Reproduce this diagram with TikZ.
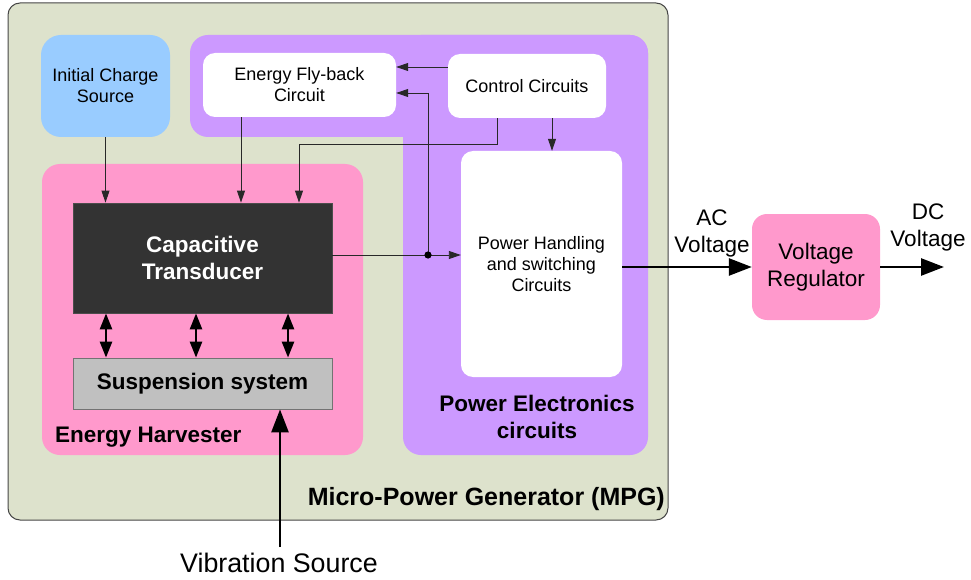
\documentclass[tikz,border=0pt]{standalone}
\usepackage{fontspec}
\setmainfont{Liberation Sans}
\usetikzlibrary{arrows.meta}
\definecolor{mpgfill}{RGB}{221,226,204}
\definecolor{mpgline}{RGB}{70,70,70}
\definecolor{pefill}{RGB}{204,153,255}
\definecolor{ehfill}{RGB}{255,153,204}
\definecolor{icsfill}{RGB}{153,204,255}
\definecolor{ctfill}{RGB}{51,51,51}
\definecolor{suspfill}{RGB}{192,192,192}
\definecolor{wire}{RGB}{40,40,40}
\tikzset{
  smallfont/.style={font=\fontsize{18}{21}\selectfont},
  bigfont/.style={font=\fontsize{22.5}{27}\selectfont},
  boldfont/.style={font=\fontsize{22.5}{27}\selectfont\bfseries},
  whitebox/.style={fill=white, rounded corners=12pt, smallfont, align=center, inner sep=0pt},
  thinarrow/.style={draw=wire, line width=0.9pt, -{Triangle[length=12pt,width=8pt]}},
  thinline/.style={draw=wire, line width=0.9pt},
  bigarrow/.style={draw=black, line width=2.6pt, -{Triangle[length=23pt,width=17pt]}},
  dblarrow/.style={draw=black, line width=2.6pt, {Triangle[length=16pt,width=12pt]}-{Triangle[length=16pt,width=12pt]}},
}
\begin{document}
\begin{tikzpicture}[x=1pt,y=-1pt]
\useasboundingbox (0,0) rectangle (971,580);
% outer MPG
\node[draw=mpgline, line width=1pt, fill=mpgfill, rounded corners=12pt, minimum width=660pt, minimum height=517pt, inner sep=0pt] (mpg) at (338,261.5) {};
% power electronics L region
\fill[pefill, rounded corners=18pt] (190,35) rectangle (648,137);
\fill[pefill, rounded corners=18pt] (403,35) rectangle (648,455);
% energy harvester
\node[fill=ehfill, rounded corners=18pt, minimum width=321pt, minimum height=291pt, inner sep=0pt] (eh) at (202.5,309.5) {};
% blocks
\node[fill=icsfill, rounded corners=20pt, minimum width=129pt, minimum height=102pt, smallfont, align=center, inner sep=0pt] (ics) at (105.5,86) {Initial Charge\\Source};
\node[whitebox, minimum width=193pt, minimum height=64pt] (efb) at (299.5,85) {Energy Fly-back\\Circuit};
\node[whitebox, minimum width=158pt, minimum height=64pt] (cc) at (527,86) {Control Circuits};
\node[whitebox, minimum width=161pt, minimum height=226pt] (ph) at (541.5,264) {Power Handling\\and switching\\Circuits};
\node[draw=black!70, line width=0.8pt, fill=ctfill, minimum width=259pt, minimum height=110pt, boldfont, text=white, align=center, inner sep=0pt] (ct) at (202.5,258) {Capacitive\\Transducer};
\node[draw=black!55, line width=0.8pt, fill=suspfill, minimum width=259pt, minimum height=51pt, boldfont, inner sep=0pt] (susp) at (202.5,383.5) {Suspension system};
\node[fill=ehfill, rounded corners=15pt, minimum width=128pt, minimum height=106pt, bigfont, align=center, inner sep=0pt] (vr) at (816,267) {Voltage\\Regulator};
% labels
\node[boldfont, anchor=west, inner sep=0pt] (ehlabel) at (55,437) {Energy Harvester};
\node[boldfont, align=center, inner sep=0pt] (pelabel) at (537,417) {Power Electronics\\circuits};
\node[font=\fontsize{25}{30}\selectfont\bfseries, anchor=east, inner sep=0pt] (mpglabel) at (665,499) {Micro-Power Generator (MPG)};
\node[font=\fontsize{26.8}{30}\selectfont, inner sep=0pt] (vib) at (279,563) {Vibration Source};
\node[bigfont, align=center, inner sep=0pt] (aclabel) at (712,233) {AC\\Voltage};
\node[bigfont, align=center, inner sep=0pt] (dclabel) at (928,227) {DC\\Voltage};
% coordinates
\coordinate (j) at (428,255);
\coordinate (t1) at (448,67);
\coordinate (c1) at (497,144);
\coordinate (c2) at (299,144);
\coordinate (c3) at (552,140);
\coordinate (c4) at (241,160);
\coordinate (d1) at (106,330);
\coordinate (d2) at (196,330);
\coordinate (d3) at (288,330);
\coordinate (vx) at (280,547);
\coordinate (dcend) at (944,267);
% thin connectors
\draw[thinarrow] (cc.west |- t1) -- (efb.east |- t1);
\draw[thinline] (ct.east |- j) -- (j);
\draw[thinarrow] (j) -- (ph.west |- j);
\draw[thinarrow] (j) |- ([yshift=-8pt]efb.east);
\fill[black] (j) circle (3.6pt);
\draw[thinarrow] (cc.south -| c1) -- (c1) -- (c2) -- (ct.north -| c2);
\draw[thinarrow] (cc.south -| c3) -- (ph.north -| c3);
\draw[thinarrow] (efb.south -| c4) -- (ct.north -| c4);
\draw[thinarrow] (ics.south) -- (ics.south |- ct.north);
% double arrows
\draw[dblarrow] (ct.south -| d1) -- (susp.north -| d1);
\draw[dblarrow] (ct.south -| d2) -- (susp.north -| d2);
\draw[dblarrow] (ct.south -| d3) -- (susp.north -| d3);
% thick arrows
\draw[bigarrow] (vx) -- (susp.south -| vx);
\draw[bigarrow] (ph.east |- vr.west) -- (vr.west);
\draw[bigarrow] (vr.east) -- (dcend);
\end{tikzpicture}
\end{document}
